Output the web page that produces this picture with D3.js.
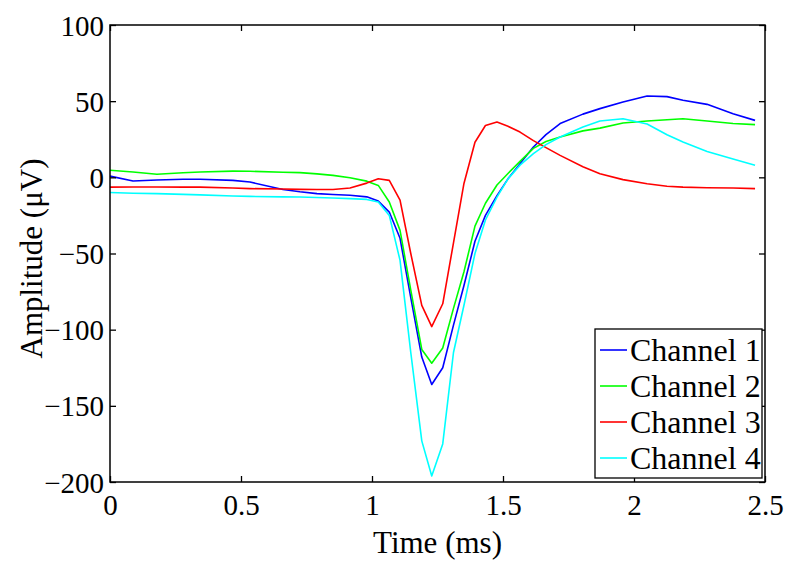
<!DOCTYPE html>
<html><head><meta charset="utf-8">
<script src="https://cdn.jsdelivr.net/npm/d3@7"></script>
<style>body{margin:0;background:#fff}svg{display:block}</style>
</head><body>
<svg id="c" width="800" height="570"></svg>
<script>
const timeMs = [0, 0.088, 0.179, 0.279, 0.344, 0.469, 0.534, 0.660, 0.725, 0.790, 0.851, 0.916, 0.980, 1.024, 1.066, 1.107, 1.148, 1.190, 1.228, 1.270, 1.311, 1.351, 1.393, 1.433, 1.477, 1.519, 1.565, 1.616, 1.664, 1.718, 1.805, 1.870, 1.958, 2.050, 2.126, 2.187, 2.279, 2.378, 2.462];
const channel1 = [0.8, -2.4, -1.8, -1.3, -1.3, -2.0, -3.1, -8.0, -9.5, -10.7, -11.3, -11.8, -12.8, -15.6, -22.8, -40, -79, -118, -136, -125, -97, -71, -42, -25, -12, -1, 9, 19.9, 28, 35.3, 41.5, 45.1, 49.4, 53.4, 53, 50.6, 47.9, 41.8, 37.4];
const channel2 = [4.6, 3.5, 2.0, 3.0, 3.5, 4.1, 4.0, 3.3, 3.1, 2.3, 1.3, -0.3, -2.5, -5.3, -16.2, -34.8, -74, -113, -122, -112, -86, -62, -32, -17, -5, 2.5, 10.5, 19, 23.5, 26.5, 30.5, 32.3, 35.7, 37, 37.8, 38.5, 37, 35.3, 34.6];
const channel3 = [-6.4, -6.3, -6.3, -6.4, -6.4, -7.0, -7.4, -7.7, -7.9, -8.0, -8.0, -7.0, -3.8, -0.9, -2.0, -15, -50, -84, -98, -83, -43, -4, 23, 34, 36.3, 33.5, 29.7, 24.1, 19.5, 14.4, 7, 2.4, -1.5, -4.2, -5.9, -6.4, -6.8, -7, -7.4];
const channel4 = [-10, -10.4, -10.7, -11.2, -11.5, -12.3, -12.5, -12.8, -12.9, -13.2, -13.6, -14, -14.5, -16.2, -25, -54.5, -115, -173, -196, -175, -115, -84, -50, -28, -13, -1, 8, 15.6, 21.5, 26.5, 33, 37, 38.5, 35, 28, 23.2, 17, 12, 7.9];
const seriesNames = ["Channel 1", "Channel 2", "Channel 3", "Channel 4"];
const seriesColors = ["#0000ff", "#00ff00", "#ff0000", "#00ffff"];
const xTicks = [0, 0.5, 1, 1.5, 2, 2.5];
const yTicks = [-200, -150, -100, -50, 0, 50, 100];

const svg = d3.select("#c");
const L = 110, R = 765, T = 25, B = 482;
const x = d3.scaleLinear().domain([0, 2.5]).range([L, R]);
const y = d3.scaleLinear().domain([-200, 100]).range([B, T]);
const font = "'Liberation Serif','Times New Roman',serif";

const allSeries = [channel1, channel2, channel3, channel4];
const line = d3.line().x((d, i) => x(timeMs[i])).y(d => y(d));
allSeries.forEach((s, k) => {
  svg.append("path").datum(s).attr("d", line).attr("fill", "none")
    .attr("stroke", seriesColors[k]).attr("stroke-width", 1.6).attr("stroke-linejoin", "round");
});

// axes (MATLAB-style box, inward ticks)
const ax = (g, axis) => { g.call(axis); g.select(".domain").remove(); g.selectAll("line").attr("stroke", "#000").attr("stroke-width", 1.3); };
svg.append("g").attr("transform", `translate(0,${B})`)
  .call(g => ax(g, d3.axisBottom(x).tickValues(xTicks).tickSize(-6).tickPadding(12).tickFormat(d3.format("~g"))))
  .selectAll("text").attr("font-family", font).attr("font-size", 29).attr("fill", "#000");
svg.append("g").attr("transform", `translate(0,${T})`)
  .call(g => ax(g, d3.axisTop(x).tickValues(xTicks).tickSize(-6).tickFormat("")));
svg.append("g").attr("transform", `translate(${L},0)`)
  .call(g => ax(g, d3.axisLeft(y).tickValues(yTicks).tickSize(-6).tickPadding(6).tickFormat(d3.format("d"))))
  .selectAll("text").attr("font-family", font).attr("font-size", 29).attr("fill", "#000").attr("dy", "0.35em");
svg.append("g").attr("transform", `translate(${R},0)`)
  .call(g => ax(g, d3.axisRight(y).tickValues(yTicks).tickSize(-6).tickFormat("")));
svg.append("rect").attr("x", L).attr("y", T).attr("width", R - L).attr("height", B - T)
  .attr("fill", "none").attr("stroke", "#000").attr("stroke-width", 1.5);

// axis titles
svg.append("text").attr("x", (L + R) / 2).attr("y", 553).attr("text-anchor", "middle")
  .attr("font-family", font).attr("font-size", 31).text("Time (ms)");
svg.append("text").attr("transform", `translate(42,${(T + B) / 2 + 5}) rotate(-90)`).attr("text-anchor", "middle")
  .attr("font-family", font).attr("font-size", 31).text("Amplitude (\u03bcV)");

// legend
const lg = svg.append("g");
lg.append("rect").attr("x", 595).attr("y", 329).attr("width", 167).attr("height", 149)
  .attr("fill", "#fff").attr("stroke", "#000").attr("stroke-width", 1.3);
seriesNames.forEach((n, k) => {
  const by = 361 + k * 36;
  lg.append("line").attr("x1", 600).attr("x2", 627).attr("y1", by - 11).attr("y2", by - 11)
    .attr("stroke", seriesColors[k]).attr("stroke-width", 1.6);
  lg.append("text").attr("x", 630).attr("y", by).attr("font-family", font).attr("font-size", 32).text(n);
});
</script>
</body></html>
